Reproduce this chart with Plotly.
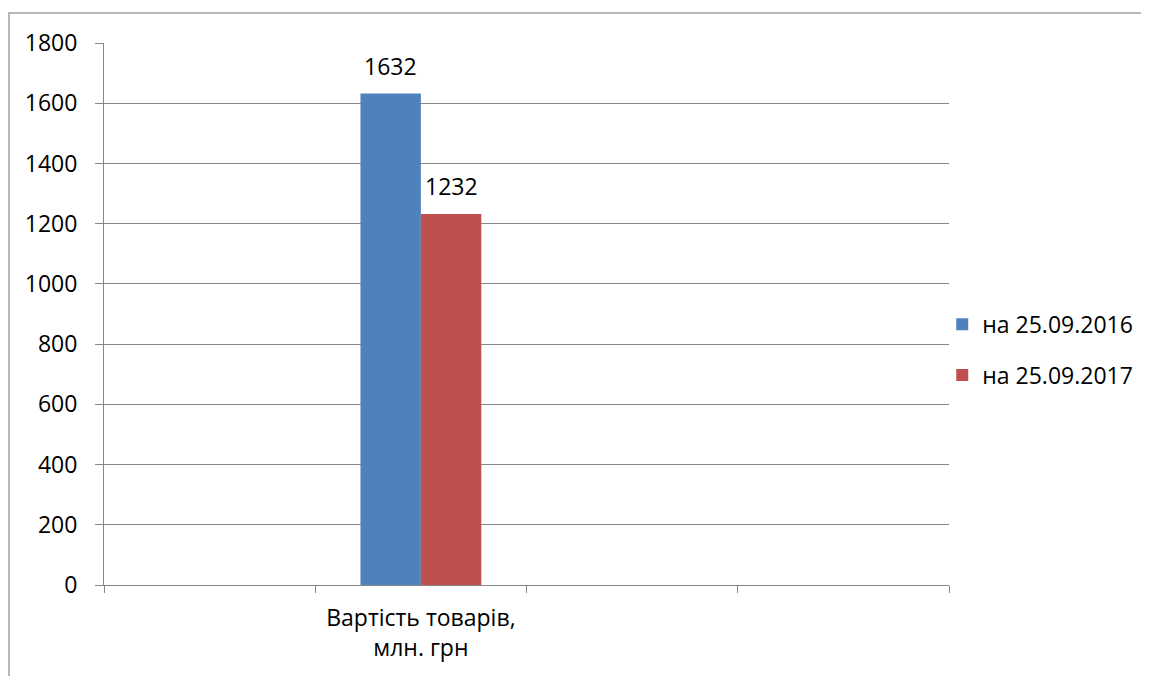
import plotly.graph_objects as go

categories = ["Вартість товарів,<br>млн. грн"]
series_names = ["на 25.09.2016", "на 25.09.2017"]
values_2016 = [1632]
values_2017 = [1232]
colors = ["#4F81BD", "#C0504D"]
y_ticks = [0, 200, 400, 600, 800, 1000, 1200, 1400, 1600, 1800]

FONT = "Open Sans"
FS = 23
GRID = "#878787"

cat_pos = [1.5]
bw = 0.286

W, H = 1149, 676
L, T, PW, PH = 96, 35, 845, 542

fig = go.Figure()
annotations = []
for i, (name, vals, col, off) in enumerate([(series_names[0], values_2016, colors[0], -bw),
                                            (series_names[1], values_2017, colors[1], 0.0)]):
    fig.add_trace(go.Bar(
        x=cat_pos, y=vals, name=name, legendgroup=name,
        marker=dict(color=col, line=dict(width=0)),
        width=bw, offset=off,
    ))
    for xp, v in zip(cat_pos, vals):
        annotations.append(dict(x=xp + off + bw / 2, y=v, xref="x", yref="y", text=str(v),
                                showarrow=False, yanchor="bottom", yshift=10,
                                font=dict(family=FONT, size=FS, color="#000000")))

fig.update_layout(
    width=W, height=H,
    margin=dict(l=L, r=W - L - PW, t=T, b=H - T - PH, pad=0),
    paper_bgcolor="white", plot_bgcolor="white",
    font=dict(family=FONT, size=FS, color="#000000"),
    showlegend=True,
    legend=dict(x=0.992, xanchor="left", y=0.434, yanchor="middle",
                font=dict(family=FONT, size=FS), traceorder="grouped",
                itemwidth=30, tracegroupgap=18, bgcolor="rgba(0,0,0,0)"),
    xaxis=dict(range=[0, 4], tickvals=cat_pos, ticktext=categories, ticks="",
               ticklabelstandoff=12,
               showgrid=False, zeroline=False, showline=True, linecolor=GRID, linewidth=1,
               minor=dict(tick0=0, dtick=1, ticks="outside", ticklen=7, tickcolor=GRID, showgrid=False),
               tickfont=dict(family=FONT, size=FS), fixedrange=True),
    yaxis=dict(range=[0, 1800], tickvals=y_ticks, showgrid=True, gridcolor=GRID, gridwidth=1,
               zeroline=False, showline=True, linecolor=GRID, linewidth=1, ticks="outside",
               ticklen=8, tickcolor=GRID, ticklabelstandoff=13,
               tickfont=dict(family=FONT, size=FS), fixedrange=True),
    annotations=annotations,
    shapes=[dict(type="rect", xref="paper", yref="paper",
                 x0=(1 - L) / PW, x1=(W + 30 - L) / PW,
                 y0=-(H + 30 - T - PH) / PH, y1=(T + PH - 5) / PH,
                 line=dict(color="#A0A0A0", width=1.5), fillcolor="rgba(0,0,0,0)", layer="below")],
)

fig.write_html("out.html")
